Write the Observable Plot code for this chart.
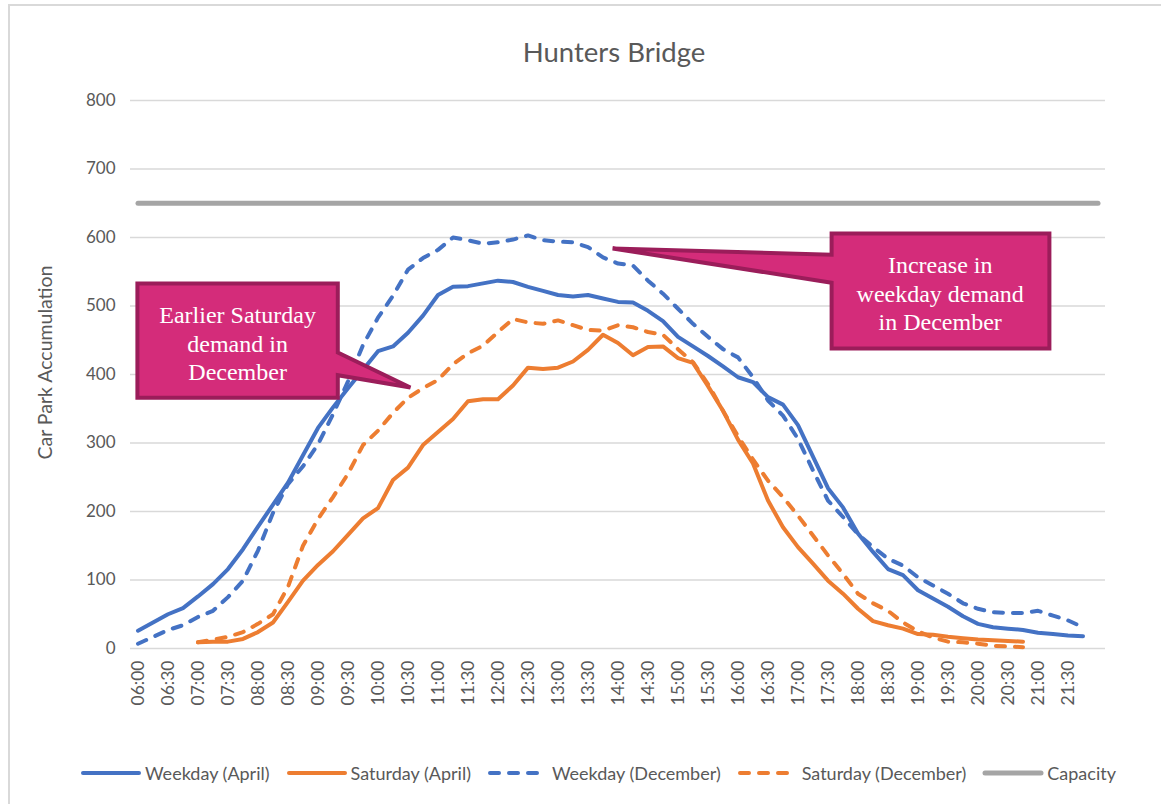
<!DOCTYPE html>
<html>
<head>
<meta charset="utf-8">
<script src="https://cdn.jsdelivr.net/npm/d3@7"></script>
<script src="https://cdn.jsdelivr.net/npm/@observablehq/plot@0.6"></script>
<style>
  body { margin: 0; background: #fff; font-family: Lato, "Open Sans", sans-serif; }
  #chart { position: relative; width: 1161px; height: 804px; overflow: hidden; background: #fff; }
  #frame { position: absolute; left: 8px; top: 4px; right: -10px; bottom: -10px;
           border-left: 2px solid #d9d9d9; border-top: 2px solid #d9d9d9; }
  #title { position: absolute; left: 414px; width: 400px; top: 35px; text-align: center;
           font-size: 27.5px; color: #595959; line-height: 34px; }
  #plot { position: absolute; left: 0; top: 80px; }
  #legend { position: absolute; left: 80px; top: 762px; display: flex; align-items: center;
            font-size: 18px; color: #595959; white-space: nowrap; }
  .item { display: flex; align-items: center; margin-right: 16px; }
  .item svg { margin-right: 3px; }
</style>
</head>
<body>
<div id="chart">
  <div id="frame"></div>
  <div id="title">Hunters Bridge</div>
  <div id="plot"></div>
  <div id="legend"></div>
</div>
<script>
// ---- Data ----
const times = ["06:00","06:15","06:30","06:45","07:00","07:15","07:30","07:45",
  "08:00","08:15","08:30","08:45","09:00","09:15","09:30","09:45",
  "10:00","10:15","10:30","10:45","11:00","11:15","11:30","11:45",
  "12:00","12:15","12:30","12:45","13:00","13:15","13:30","13:45",
  "14:00","14:15","14:30","14:45","15:00","15:15","15:30","15:45",
  "16:00","16:15","16:30","16:45","17:00","17:15","17:30","17:45",
  "18:00","18:15","18:30","18:45","19:00","19:15","19:30","19:45",
  "20:00","20:15","20:30","20:45","21:00","21:15","21:30","21:45"];

const weekdayApril = [26,38,50,59, 76,94,116,145, 178,210,242,282, 322,352,380,407,
  434,441,461,486, 516,528,529,533, 537,535,528,522, 516,514,516,511,
  506,505,493,478, 455,441,427,412, 396,389,367,356, 326,280,234,206,
  168,141,116,107, 85,73,61,47, 36,31,29,27, 23,21,19,18];

const saturdayApril = [null,null,null,null, 9,10,10,14, 24,38,68,99, 122,142,166,190,
  205,246,264,297, 316,335,361,364, 364,384,410,408, 410,419,436,458,
  446,428,440,441, 424,417,383,347, 305,270,216,177, 148,124,99,80,
  58,40,34,29, 21,20,17,15, 13,12,11,10, null,null,null,null];

const weekdayDecember = [7,17,27,34, 46,55,75,99, 143,198,240,266, 298,342,390,443,
  483,515,553,570, 582,600,596,591, 593,597,603,596, 594,593,586,571,
  562,559,537,518, 496,474,455,437, 425,396,362,340, 306,260,216,192,
  167,148,131,121, 104,92,80,66, 58,53,52,52, 55,48,41,31];

const saturdayDecember = [null,null,null,null, 9,13,17,24, 36,50,90,150, 189,221,255,297,
  318,344,366,380, 392,415,431,442, 462,481,476,474, 479,472,465,464,
  472,469,462,458, 437,418,386,347, 310,276,245,221, 194,165,136,109,
  80,66,55,38, 25,16,10,9, 7,4,3,2, null,null,null,null];

const capacityValue = 650;
const capacitySpan = ["06:00", "22:00"];

const xTickLabels = ["06:00","06:30","07:00","07:30","08:00","08:30","09:00","09:30",
  "10:00","10:30","11:00","11:30","12:00","12:30","13:00","13:30",
  "14:00","14:30","15:00","15:30","16:00","16:30","17:00","17:30",
  "18:00","18:30","19:00","19:30","20:00","20:30","21:00","21:30"];
const yTicks = [0,100,200,300,400,500,600,700,800];

const seriesNames = ["Weekday (April)","Saturday (April)","Weekday (December)","Saturday (December)","Capacity"];
const seriesColors = ["#4472C4","#ED7D31","#4472C4","#ED7D31","#A5A5A5"];
const seriesDashed = [false,false,true,true,false];

// Callout annotations (x in hours, y in car-park units)
const callouts = [
  {id: "sat", text: "Earlier Saturday\ndemand in\nDecember",
   box: {x1: 5.99, x2: 9.33, y1: 366, y2: 533}, side: "right",
   attach: [432, 399], tip: {x: 10.54, y: 381}, center: {x: 7.66, y: 447}},
  {id: "wd", text: "Increase in\nweekday demand\nin December",
   box: {x1: 17.56, x2: 21.19, y1: 438, y2: 606}, side: "left",
   attach: [575, 534], tip: {x: 13.91, y: 584}, center: {x: 19.37, y: 520}}
];

// ---- Build ----
const toHours = s => { const [h, m] = s.split(":").map(Number); return h + m / 60; };
const mk = vals => vals.map((v, i) => ({t: toHours(times[i]), v}));
const seriesData = [weekdayApril, saturdayApril, weekdayDecember, saturdayDecember].map(mk);
const capacityData = capacitySpan.map(s => ({t: toHours(s), v: capacityValue}));

const xTickVals = xTickLabels.map(toHours);
const labelOf = new Map(xTickVals.map((h, i) => [h, xTickLabels[i]]));

const polys = [];
for (const c of callouts) {
  const b = c.box;
  let pts;
  if (c.side === "right") {
    pts = [[b.x1,b.y2],[b.x2,b.y2],[b.x2,c.attach[0]],[c.tip.x,c.tip.y],[b.x2,c.attach[1]],[b.x2,b.y1],[b.x1,b.y1]];
  } else {
    pts = [[b.x1,b.y2],[b.x2,b.y2],[b.x2,b.y1],[b.x1,b.y1],[b.x1,c.attach[1]],[c.tip.x,c.tip.y],[b.x1,c.attach[0]]];
  }
  pts.forEach(p => polys.push({id: c.id, x: p[0], y: p[1]}));
}

const lineMarks = seriesData.map((d, k) => Plot.line(d, {
  x: "t", y: "v", stroke: seriesColors[k], strokeWidth: 4,
  strokeLinecap: "round", strokeLinejoin: "round",
  strokeDasharray: seriesDashed[k] ? "9 10" : null
}));

const chart = Plot.plot({
  width: 1161, height: 640,
  marginLeft: 130, marginRight: 56, marginTop: 20, marginBottom: 72,
  x: {domain: [5.875, 22.125]},
  y: {domain: [0, 800]},
  style: {fontFamily: "Lato, 'Open Sans', sans-serif", fontSize: "17px", color: "#595959", background: "transparent", overflow: "visible"},
  marks: [
    Plot.gridY(yTicks, {stroke: "#d9d9d9", strokeOpacity: 1, strokeWidth: 1.5}),
    Plot.axisY(yTicks, {tickSize: 0, tickPadding: 15, label: null, fill: "#595959"}),
    Plot.axisX(xTickVals, {tickSize: 0, tickPadding: 12, tickRotate: -90, label: null,
      tickFormat: d => labelOf.get(d), fill: "#595959", fontSize: 17.5}),
    Plot.text(["Car Park Accumulation"], {frameAnchor: "left", textAnchor: "middle", dx: -85, dy: -12, rotate: -90,
      fontSize: 19.5, fill: "#595959"}),
    Plot.line(capacityData, {x: "t", y: "v", stroke: seriesColors[4], strokeWidth: 5, strokeLinecap: "round"}),
    ...lineMarks,
    Plot.line(polys, {x: "x", y: "y", z: "id", curve: "linear-closed", fill: "#D42C7A",
      stroke: "#9B1D5A", strokeWidth: 4, strokeLinejoin: "miter", strokeMiterlimit: 4}),
    Plot.text(callouts, {x: d => d.center.x, y: d => d.center.y, text: "text",
      fill: "white", fontFamily: "'Liberation Serif', 'Times New Roman', serif",
      fontSize: 24, lineHeight: 1.2, lineAnchor: "middle"})
  ]
});
document.getElementById("plot").appendChild(chart);

// ---- Legend ----
const legend = document.getElementById("legend");
seriesNames.forEach((name, k) => {
  const item = document.createElement("div");
  item.className = "item";
  const dash = seriesDashed[k] ? ' stroke-dasharray="9 10"' : '';
  item.innerHTML = `<svg width="62" height="10"><line x1="3" y1="5" x2="59" y2="5" stroke="${seriesColors[k]}" stroke-width="${k === 4 ? 5 : 4}" stroke-linecap="round"${dash}/></svg><span>${name}</span>`;
  legend.appendChild(item);
});
</script>
</body>
</html>
